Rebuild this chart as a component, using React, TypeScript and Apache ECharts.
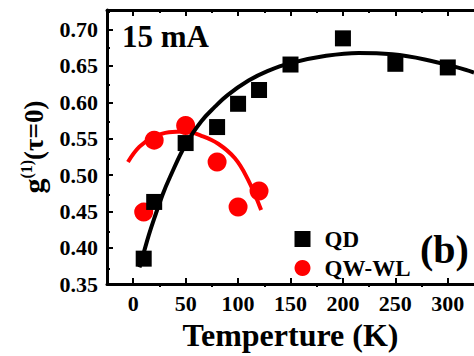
import React, { useEffect, useRef } from 'react';
import * as echarts from 'echarts';

// ---- data ----
const xTicks = [0, 50, 100, 150, 200, 250, 300];
const xMinorTicks = [25, 75, 125, 175, 225, 275];
const yTicks = [0.35, 0.4, 0.45, 0.5, 0.55, 0.6, 0.65, 0.7];
const yMinorTicks = [0.375, 0.425, 0.475, 0.525, 0.575, 0.625, 0.675, 0.725];

const qdTemp = [10, 20, 50, 80, 100, 120, 150, 200, 250, 300];
const qdG = [0.385, 0.463, 0.544, 0.566, 0.598, 0.617, 0.652, 0.688, 0.653, 0.648];

const wlTemp = [10, 20, 50, 80, 100, 120];
const wlG = [0.449, 0.548, 0.568, 0.518, 0.456, 0.478];

const qdFitTemp = [6, 10, 15, 20, 28, 35, 50, 65, 78, 90, 110, 128, 150, 184, 215, 247, 278, 309, 325];
const qdFitG = [0.373, 0.393, 0.418, 0.44, 0.473, 0.497, 0.542, 0.574, 0.594, 0.61, 0.63, 0.643, 0.654, 0.664, 0.668, 0.666, 0.659, 0.648, 0.641];

const wlFitTemp = [-5, 6, 19, 34, 50, 65, 81, 97, 109, 122];
const wlFitG = [0.518, 0.539, 0.552, 0.559, 0.56, 0.554, 0.543, 0.523, 0.495, 0.452];

const FONT = 'Liberation Serif';

const zip = (a: number[], b: number[]) => a.map((v, i) => [v, b[i]]);

export default function App() {
  const ref = useRef<HTMLDivElement>(null);
  useEffect(() => {
    if (!ref.current) return;
    const chart = echarts.init(ref.current, undefined, { renderer: 'svg' });
    const gridRect = { left: 107, top: 10, width: 374, height: 277 };
    const xMin = -25;
    const xMax = 325;
    const yMin = 0.35;
    const yMax = 0.727;
    const lineStyle = { color: '#000', width: 3 };
    const majorTick = { show: true, inside: true, length: 6, lineStyle: { color: '#000', width: 2 } };
    const minorTickSt = { show: true, inside: true, length: 3, lineStyle: { color: '#000', width: 2 } };
    const tickRich = { a: { fontFamily: FONT, fontWeight: 'bold', fontSize: 22, color: '#000' } };

    chart.setOption({
      animation: false,
      textStyle: { fontFamily: FONT },
      grid: [
        { ...gridRect, containLabel: false },
        { ...gridRect, containLabel: false },
      ],
      xAxis: [
        {
          gridIndex: 0, type: 'value', position: 'bottom', min: xMin, max: xMax,
          axisLine: { onZero: false, lineStyle },
          axisTick: { ...majorTick, customValues: xTicks },
          axisLabel: {
            fontFamily: FONT, fontWeight: 'bold', fontSize: 22, color: '#000',
            margin: 8, customValues: xTicks, rich: tickRich,
            formatter: (v: number) => '{a|' + v + '}',
          },
          splitLine: { show: false },
          name: 'Temperture (K)', nameLocation: 'middle', nameGap: 29,
          nameTextStyle: { fontFamily: FONT, fontWeight: 'bold', fontSize: 32, color: '#000' },
        },
        {
          gridIndex: 0, type: 'value', position: 'top', min: xMin, max: xMax,
          axisLine: { onZero: false, lineStyle },
          axisTick: { ...majorTick, customValues: xTicks },
          axisLabel: { show: false },
          splitLine: { show: false },
        },
        {
          gridIndex: 1, type: 'value', position: 'bottom', min: xMin, max: xMax,
          axisLine: { show: false, onZero: false },
          axisTick: { ...minorTickSt, customValues: xMinorTicks },
          axisLabel: { show: false },
          splitLine: { show: false },
        },
        {
          gridIndex: 1, type: 'value', position: 'top', min: xMin, max: xMax,
          axisLine: { show: false, onZero: false },
          axisTick: { ...minorTickSt, customValues: xMinorTicks },
          axisLabel: { show: false },
          splitLine: { show: false },
        },
      ],
      yAxis: [
        {
          gridIndex: 0, type: 'value', position: 'left', min: yMin, max: yMax,
          axisLine: { onZero: false, lineStyle },
          axisTick: { ...majorTick, customValues: yTicks },
          axisLabel: {
            fontFamily: FONT, fontWeight: 'bold', fontSize: 22, color: '#000',
            margin: 9, customValues: yTicks, rich: tickRich,
            formatter: (v: number) => '{a|' + v.toFixed(2) + '}',
          },
          splitLine: { show: false },
          name: '{g|g}{s|(1)}{t|(τ=0)}',
          nameLocation: 'middle',
          nameRotate: 90,
          nameGap: 58,
          nameTextStyle: {
            color: '#000',
            fontFamily: FONT,
            fontWeight: 'bold',
            rich: {
              g: { fontFamily: FONT, fontWeight: 'bold', fontSize: 30, color: '#000' },
              s: { fontFamily: FONT, fontWeight: 'bold', fontSize: 16, color: '#000', verticalAlign: 'top' },
              t: { fontFamily: FONT, fontWeight: 'bold', fontSize: 27, color: '#000' },
            },
          },
        },
        {
          gridIndex: 1, type: 'value', position: 'left', min: yMin, max: yMax,
          axisLine: { show: false, onZero: false },
          axisTick: { ...minorTickSt, customValues: yMinorTicks },
          axisLabel: { show: false },
          splitLine: { show: false },
        },
      ],
      legend: {
        orient: 'vertical',
        left: 289.5,
        top: 222.5,
        itemWidth: 16,
        itemHeight: 16,
        itemGap: 6,
        data: [
          { name: 'QD', icon: 'rect' },
          { name: 'QW-WL', icon: 'circle' },
        ],
        formatter: (name: string) => '{a|' + name + '}',
        textStyle: {
          fontFamily: FONT, fontWeight: 'bold', fontSize: 23, color: '#000',
          lineHeight: 22, padding: [0, 0, 0, 9],
          rich: { a: { fontFamily: FONT, fontWeight: 'bold', fontSize: 23, color: '#000', lineHeight: 22 } },
        },
      },
      graphic: [
        {
          type: 'text', left: 122, top: 21, silent: true,
          style: { text: '15 mA', fontFamily: FONT, fontWeight: 'bold', fontSize: 31, fill: '#000' },
        },
        {
          type: 'text', left: 420, top: 229, silent: true,
          style: { text: '(b)', fontFamily: FONT, fontWeight: 'bold', fontSize: 40, fill: '#000' },
        },
      ],
      series: [
        {
          name: 'QW-WL', type: 'scatter', xAxisIndex: 0, yAxisIndex: 0,
          symbol: 'circle', symbolSize: 19, itemStyle: { color: '#ff0000', opacity: 1 },
          data: zip(wlTemp, wlG), z: 2,
        },
        {
          name: 'QW-WL fit', type: 'line', xAxisIndex: 0, yAxisIndex: 0,
          showSymbol: false, smooth: 0.4, lineStyle: { color: '#ff0000', width: 4 },
          data: zip(wlFitTemp, wlFitG), z: 3,
        },
        {
          name: 'QD', type: 'scatter', xAxisIndex: 0, yAxisIndex: 0,
          symbol: 'rect', symbolSize: 16, itemStyle: { color: '#000', opacity: 1 },
          data: zip(qdTemp, qdG), z: 4,
        },
        {
          name: 'QD fit', type: 'line', xAxisIndex: 0, yAxisIndex: 0,
          showSymbol: false, smooth: 0.4, lineStyle: { color: '#000', width: 4 },
          data: zip(qdFitTemp, qdFitG), z: 5,
        },
      ],
    });
    return () => chart.dispose();
  }, []);
  return <div ref={ref} style={{ width: 474, height: 356, position: 'fixed', left: 0, top: 0, background: '#fff' }} />;
}
